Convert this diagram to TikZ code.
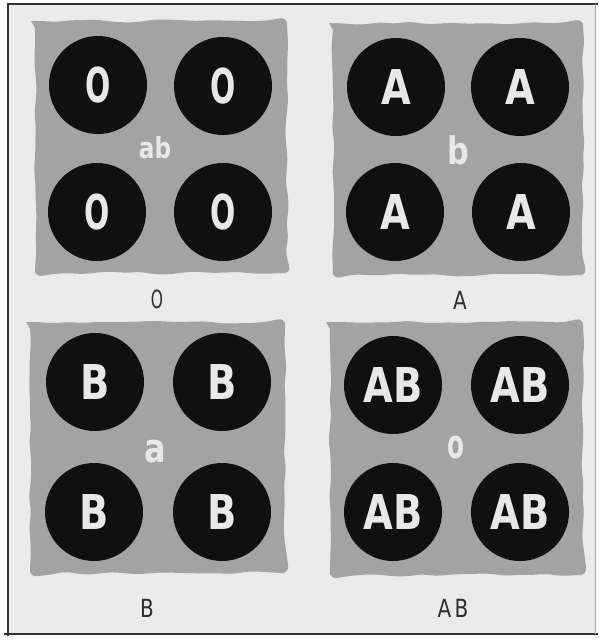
\documentclass[tikz,border=0pt]{standalone}
\usepackage{fontspec}
\usepackage{graphicx}
\setmainfont{DejaVu Sans}
\usetikzlibrary{decorations.pathmorphing}
\definecolor{paper}{HTML}{EBEBEB}
\definecolor{panelgrey}{HTML}{A3A3A3}
\definecolor{disc}{HTML}{101010}
\definecolor{ink}{HTML}{E8E8E8}
\definecolor{captioncol}{HTML}{2E2E2E}
\newcommand{\narrow}[1]{\scalebox{0.8}[1]{#1}}
\newcommand{\slim}[1]{\scalebox{0.62}[1]{#1}}
\tikzset{
  panel/.style={fill=panelgrey, rounded corners=7pt, decorate, decoration={random steps, segment length=14pt, amplitude=1.6pt}},
  cell/.style={circle, fill=disc, minimum size=98pt, inner sep=0pt, text=ink, font=\bfseries\fontsize{48}{48}\selectfont},
  serum/.style={text=ink, inner sep=0pt},
  captext/.style={text=captioncol, inner sep=0pt, font=\fontsize{25}{25}\selectfont}
}
\begin{document}
\begin{tikzpicture}[x=1pt,y=-1pt]
\pgfmathsetseed{7}
\useasboundingbox (0,0) rectangle (598,640);
\fill[white] (0,0) rectangle (598,640);
\fill[paper] (8,4) rectangle (595,634);
\draw[line width=2.5pt, black!80] (8,636) -- (8,4) -- (598,4);
\draw[line width=2.5pt, black!80] (4,634) -- (598,634);
\draw[line width=0.8pt, black!35] (595,4) -- (595,634);
% panels
\path[panel] (35,21) rectangle (287,273);
\path[panel] (333,23) rectangle (583,275);
\path[panel] (30,322) rectangle (285,573);
\path[panel] (330,322) rectangle (583,575);
% panel O
\node[cell] (o1) at (98,85) {\slim{O}};
\node[cell] (o2) at (223,86) {\slim{O}};
\node[cell] (o3) at (97,212) {\slim{O}};
\node[cell] (o4) at (223,212) {\slim{O}};
\node[serum, font=\bfseries\fontsize{29}{29}\selectfont] (so) at (155,148) {\narrow{ab}};
\node[captext] (lo) at (157,299) {\slim{O}};
% panel A
\node[cell] (a1) at (396,87) {\narrow{A}};
\node[cell] (a2) at (520,87) {\narrow{A}};
\node[cell] (a3) at (395,212) {\narrow{A}};
\node[cell] (a4) at (521,212) {\narrow{A}};
\node[serum, font=\bfseries\fontsize{38}{38}\selectfont] (sa) at (458,150) {\narrow{b}};
\node[captext] (la) at (460,300) {\narrow{A}};
% panel B
\node[cell] (b1) at (95,382) {\narrow{B}};
\node[cell] (b2) at (222,382) {\narrow{B}};
\node[cell] (b3) at (94,512) {\narrow{B}};
\node[cell] (b4) at (222,512) {\narrow{B}};
\node[serum, font=\bfseries\fontsize{40}{40}\selectfont] (sb) at (155,452) {\narrow{a}};
\node[captext] (lb) at (147,608) {\narrow{B}};
% panel AB
\node[cell] (c1) at (393,385) {\narrow{AB}};
\node[cell] (c2) at (520,385) {\narrow{AB}};
\node[cell] (c3) at (393,512) {\narrow{AB}};
\node[cell] (c4) at (520,512) {\narrow{AB}};
\node[serum, font=\bfseries\fontsize{40}{40}\selectfont] (sc) at (456,448) {\slim{o}};
\node[captext] (lc) at (453,608) {\narrow{A\,B}};
\end{tikzpicture}
\end{document}
